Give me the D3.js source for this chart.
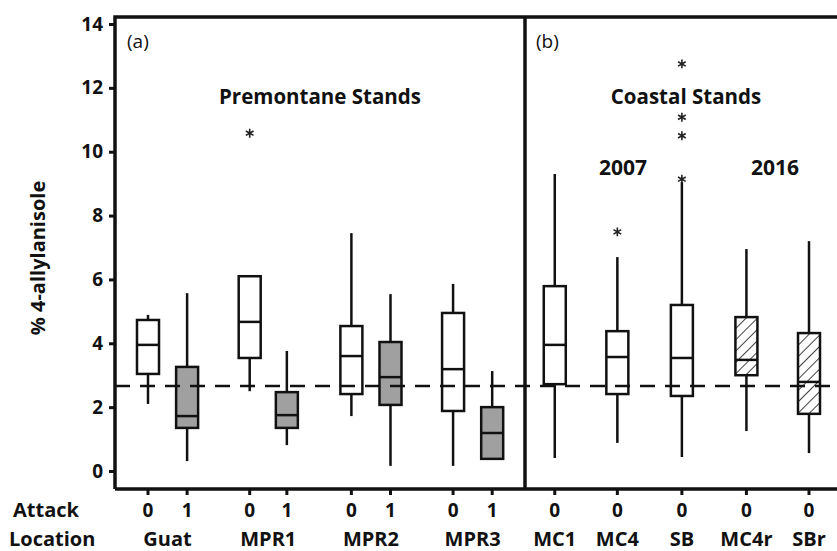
<!DOCTYPE html>
<html>
<head>
<meta charset="utf-8">
<script src="https://cdn.jsdelivr.net/npm/d3@7"></script>
<style>
  body { margin: 0; background: #fff; }
  text { font-family: "Open Sans", sans-serif; font-weight: bold; fill: #111; }
</style>
</head>
<body>
<script>
// groups in plotting order
const groups = ["Guat0", "Guat1", "MPR1_0", "MPR1_1", "MPR2_0", "MPR2_1", "MPR3_0", "MPR3_1", "MC1", "MC4", "SB", "MC4r", "SBr"];
const attackLabels = ["0", "1", "0", "1", "0", "1", "0", "1", "0", "0", "0", "0", "0"];
const fills = ["white", "grey", "white", "grey", "white", "grey", "white", "grey", "white", "white", "white", "hatch", "hatch"];
// box stats
const whiskerLow = [2.1, 0.31, 2.5, 0.81, 1.72, 0.16, 0.16, 0.38, 0.41, 0.88, 0.44, 1.25, 0.56];
const q1 = [3.04, 1.35, 3.54, 1.35, 2.41, 2.07, 1.88, 0.38, 2.72, 2.41, 2.35, 3.0, 1.79];
const medians = [3.95, 1.72, 4.67, 1.75, 3.6, 2.94, 3.19, 1.19, 3.95, 3.57, 3.54, 3.48, 2.79];
const q3 = [4.73, 3.26, 6.1, 2.47, 4.54, 4.04, 4.95, 2.0, 5.79, 4.38, 5.2, 4.82, 4.32];
const whiskerHigh = [4.89, 5.57, 6.14, 3.76, 7.45, 5.54, 5.86, 3.13, 9.3, 6.7, 9.05, 6.95, 7.2];
const outliers = [
  {g: "MPR1_0", v: 10.58},
  {g: "MC4", v: 7.49},
  {g: "SB", v: 9.14}, {g: "SB", v: 10.5}, {g: "SB", v: 11.08}, {g: "SB", v: 12.75}
];
const locations = [
  {name: "Guat", g: ["Guat0", "Guat1"]},
  {name: "MPR1", g: ["MPR1_0", "MPR1_1"]},
  {name: "MPR2", g: ["MPR2_0", "MPR2_1"]},
  {name: "MPR3", g: ["MPR3_0", "MPR3_1"]},
  {name: "MC1", g: ["MC1"]},
  {name: "MC4", g: ["MC4"]},
  {name: "SB", g: ["SB"]},
  {name: "MC4r", g: ["MC4r"]},
  {name: "SBr", g: ["SBr"]}
];
const referenceLine = 2.66;
const yTicks = [0, 2, 4, 6, 8, 10, 12, 14];
// relative positions along x (slots)
const slots = [0, 1, 2.6, 3.55, 5.2, 6.2, 7.8, 8.8, 10.4, 12.0, 13.65, 15.3, 16.9];

const width = 837, height = 551;
const margin = {top: 17, left: 115};

const svg = d3.select("body").append("svg")
  .attr("width", width).attr("height", height);

const defs = svg.append("defs");
const pat = defs.append("pattern")
  .attr("id", "hatch")
  .attr("patternUnits", "userSpaceOnUse")
  .attr("width", 8).attr("height", 8)
  .attr("patternTransform", "rotate(45)");
pat.append("rect").attr("width", 8).attr("height", 8).attr("fill", "white");
pat.append("line")
  .attr("x1", 0).attr("y1", 0).attr("x2", 0).attr("y2", 8)
  .attr("stroke", "#111").attr("stroke-width", 1.6);

let y = d3.scaleLinear().domain([0, 14]).range([471, 24]);
let x = d3.scaleLinear().domain([0, 16.9]).range([148, 809]);
const xOf = g => x(slots[groups.indexOf(g)]);

const fillColor = f => f === "grey" ? "#a0a0a0" : (f === "hatch" ? "url(#hatch)" : "white");

const boxW = 22;
const gBoxes = svg.append("g");
groups.forEach((g, i) => {
  const cx = xOf(g);
  gBoxes.append("line")
    .attr("x1", cx).attr("x2", cx)
    .attr("y1", y(whiskerHigh[i])).attr("y2", y(whiskerLow[i]))
    .attr("stroke", "#111").attr("stroke-width", 2.5);
  gBoxes.append("rect")
    .attr("x", cx - boxW / 2).attr("width", boxW)
    .attr("y", y(q3[i])).attr("height", Math.max(0, y(q1[i]) - y(q3[i])))
    .attr("fill", fillColor(fills[i]))
    .attr("stroke", "#111").attr("stroke-width", 2.5);
  gBoxes.append("line")
    .attr("x1", cx - boxW / 2).attr("x2", cx + boxW / 2)
    .attr("y1", y(medians[i])).attr("y2", y(medians[i]))
    .attr("stroke", "#111").attr("stroke-width", 2.5);
});

// outliers as asterisks
svg.append("g").selectAll("path")
  .data(outliers).join("path")
  .attr("transform", d => `translate(${xOf(d.g)},${y(d.v)})`)
  .attr("d", d3.symbol(d3.symbolAsterisk).size(55))
  .attr("fill", "none").attr("stroke", "#222").attr("stroke-width", 1.6);

svg.append("line")
  .attr("x1", margin.left).attr("x2", width)
  .attr("y1", y(referenceLine)).attr("y2", y(referenceLine))
  .attr("stroke", "#111").attr("stroke-width", 2.5)
  .attr("stroke-dasharray", "15,10");

// frame
const frameBottom = 489;
svg.append("path")
  .attr("d", `M${margin.left},${frameBottom}V${margin.top}H${width + 10}`)
  .attr("fill", "none").attr("stroke", "#111").attr("stroke-width", 3.5);
svg.append("line")
  .attr("x1", margin.left).attr("x2", width + 10)
  .attr("y1", frameBottom).attr("y2", frameBottom)
  .attr("stroke", "#111").attr("stroke-width", 3.5);
svg.append("line")
  .attr("x1", 525).attr("x2", 525)
  .attr("y1", margin.top).attr("y2", frameBottom)
  .attr("stroke", "#111").attr("stroke-width", 3.5);

// y axis
const yAxis = svg.append("g")
  .attr("transform", `translate(${margin.left - 1},0)`)
  .call(d3.axisLeft(y).tickValues(yTicks).tickSize(5).tickPadding(6));
yAxis.select(".domain").remove();
yAxis.selectAll(".tick line").attr("stroke", "#111").attr("stroke-width", 3);
yAxis.selectAll(".tick text")
  .style("font-size", "19px").style("font-family", "'Open Sans', sans-serif").style("font-weight", "bold").attr("fill", "#111");

// x ticks
const xTickPos = slots.map(s => x(s));
svg.append("g").selectAll("line")
  .data(xTickPos).join("line")
  .attr("x1", d => d).attr("x2", d => d)
  .attr("y1", frameBottom).attr("y2", frameBottom + 6)
  .attr("stroke", "#111").attr("stroke-width", 3);

svg.append("g").selectAll("text")
  .data(attackLabels).join("text")
  .attr("x", (d, i) => xTickPos[i])
  .attr("y", 517)
  .attr("text-anchor", "middle")
  .style("font-size", "19px")
  .text(d => d);

svg.append("g").selectAll("text")
  .data(locations).join("text")
  .attr("x", d => d3.mean(d.g, g => xOf(g)))
  .attr("y", 546)
  .attr("text-anchor", "middle")
  .style("font-size", "20px")
  .text(d => d.name);

svg.append("text").attr("x", 13).attr("y", 517).style("font-size", "20px").text("Attack");
svg.append("text").attr("x", 9).attr("y", 546).style("font-size", "20px").text("Location");

// y label
svg.append("text")
  .attr("transform", "translate(45,258) rotate(-90)")
  .attr("text-anchor", "middle")
  .style("font-size", "20px")
  .text("% 4-allylanisole");

// annotations
svg.append("text").attr("x", 127).attr("y", 48).style("font-weight", "normal").style("font-size", "19px").text("(a)");
svg.append("text").attr("x", 536).attr("y", 48).style("font-weight", "normal").style("font-size", "19px").text("(b)");
svg.append("text").attr("x", 320).attr("y", 104).attr("text-anchor", "middle").style("font-size", "20.5px").text("Premontane Stands");
svg.append("text").attr("x", 686).attr("y", 104).attr("text-anchor", "middle").style("font-size", "20.5px").text("Coastal Stands");
svg.append("text").attr("x", 623).attr("y", 175).attr("text-anchor", "middle").style("font-size", "21px").text("2007");
svg.append("text").attr("x", 775).attr("y", 175).attr("text-anchor", "middle").style("font-size", "21px").text("2016");
</script>
</body>
</html>
